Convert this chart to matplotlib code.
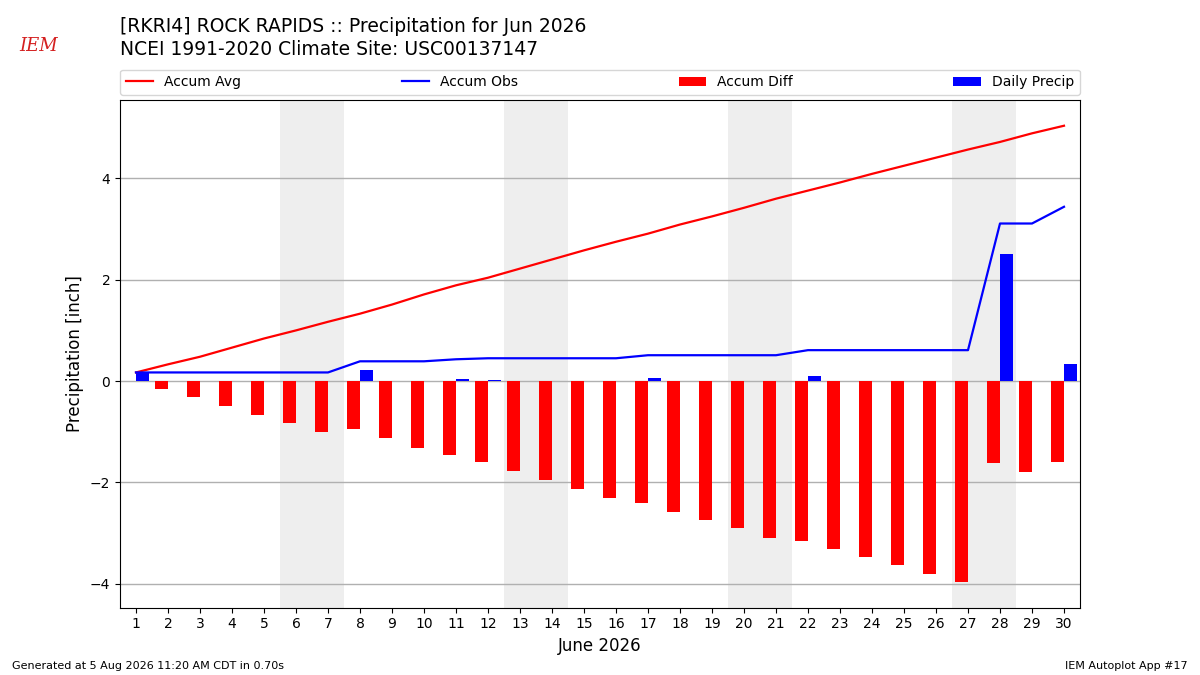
import matplotlib
matplotlib.use("Agg")
import matplotlib.pyplot as plt

days = list(range(1, 31))
accum_avg = [0.17, 0.33, 0.48, 0.66, 0.84, 1.00, 1.17, 1.33, 1.51, 1.71,
             1.89, 2.04, 2.22, 2.40, 2.58, 2.75, 2.91, 3.09, 3.25, 3.42,
             3.60, 3.76, 3.92, 4.09, 4.25, 4.41, 4.57, 4.72, 4.89, 5.04]
accum_obs = [0.17, 0.17, 0.17, 0.17, 0.17, 0.17, 0.17, 0.39, 0.39, 0.39,
             0.43, 0.45, 0.45, 0.45, 0.45, 0.45, 0.51, 0.51, 0.51, 0.51,
             0.51, 0.61, 0.61, 0.61, 0.61, 0.61, 0.61, 3.11, 3.11, 3.44]
accum_diff = [0.00, -0.16, -0.31, -0.49, -0.67, -0.83, -1.00, -0.94, -1.12, -1.32,
              -1.46, -1.59, -1.77, -1.95, -2.13, -2.30, -2.40, -2.58, -2.74, -2.91,
              -3.09, -3.15, -3.31, -3.48, -3.64, -3.80, -3.96, -1.61, -1.79, -1.59]
daily_precip = [0.17, 0, 0, 0, 0, 0, 0, 0.22, 0, 0,
                0.04, 0.02, 0, 0, 0, 0, 0.06, 0, 0, 0,
                0, 0.10, 0, 0, 0, 0, 0, 2.50, 0, 0.33]
weekend_starts = [6, 13, 20, 27]

fig = plt.figure(figsize=(12, 6.75), dpi=100)
ax = fig.add_axes([0.1, 0.1, 0.8, 0.752])

for d in weekend_starts:
    ax.axvspan(d - 0.5, d + 1.5, color="#eeeeee", zorder=0, lw=0)

ax.grid(axis="y", color="#b0b0b0", lw=1, zorder=1)
ax.set_axisbelow(True)

ax.plot(days, accum_avg, color="red", lw=1.6, label="Accum Avg", zorder=4)
ax.plot(days, accum_obs, color="blue", lw=1.6, label="Accum Obs", zorder=4)
ax.bar(days, accum_diff, width=-0.4, align="edge", color="red", label="Accum Diff", zorder=3)
ax.bar(days, daily_precip, width=0.4, align="edge", color="blue", label="Daily Precip", zorder=3)

ax.set_xlim(0.5, 30.5)
ax.set_ylim(-4.47, 5.55)
ax.set_xticks(days)
ax.set_xticklabels([str(d) for d in days], fontsize=10)
ax.set_yticks([-4, -2, 0, 2, 4])
ax.tick_params(axis="y", labelsize=10)
ax.set_xlabel("June 2026", fontsize=12)
ax.set_ylabel("Precipitation [inch]", fontsize=12)

ax.legend(loc="lower left", bbox_to_anchor=(0, 1.01, 1, 0.05), mode="expand",
          ncol=4, fontsize=10, borderaxespad=0, frameon=True)

fig.text(0.1, 0.961, "[RKRI4] ROCK RAPIDS :: Precipitation for Jun 2026",
         fontsize=13.5, va="center", ha="left")
fig.text(0.1, 0.927, "NCEI 1991-2020 Climate Site: USC00137147",
         fontsize=13.5, va="center", ha="left")

fig.text(0.032, 0.932, "IEM", fontsize=13, color="#d42020", family="serif",
         style="italic", ha="center", va="center")

fig.text(0.01, 0.014, "Generated at 5 Aug 2026 11:20 AM CDT in 0.70s", fontsize=8,
         ha="left", va="center")
fig.text(0.99, 0.014, "IEM Autoplot App #17", fontsize=8, ha="right", va="center")

fig.savefig("out.png", dpi=100)
